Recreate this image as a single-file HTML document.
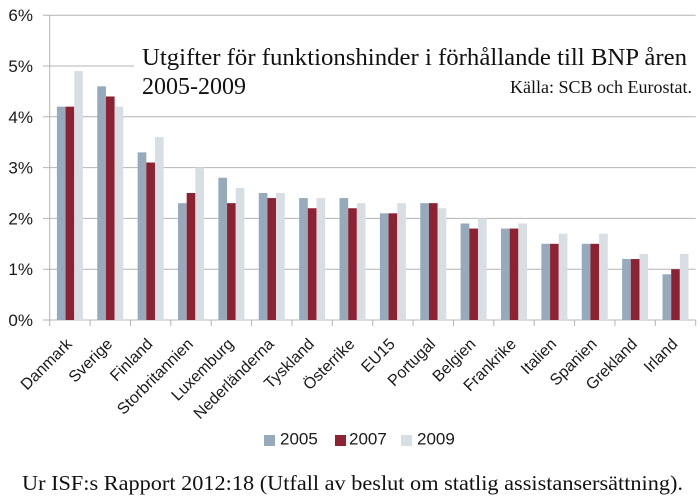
<!DOCTYPE html>
<html>
<head>
<meta charset="utf-8">
<style>
html,body{margin:0;padding:0;background:#fff;}
svg{display:block;}
.ax{font-family:"Liberation Sans",sans-serif;font-size:17px;fill:#1a1a1a;}
.cat{font-family:"Liberation Sans",sans-serif;font-size:16px;fill:#1a1a1a;}
.ser{font-family:"Liberation Serif",serif;fill:#111;}
</style>
</head>
<body>
<svg width="700" height="500" viewBox="0 0 700 500" xmlns="http://www.w3.org/2000/svg">
<rect x="0" y="0" width="700" height="500" fill="#fff"/>
<!-- gridlines -->
<g stroke="#b4b4b4" stroke-width="1">
<line x1="43" y1="15.2" x2="695.7" y2="15.2"/>
<line x1="43" y1="66" x2="695.7" y2="66"/>
<line x1="43" y1="116.8" x2="695.7" y2="116.8"/>
<line x1="43" y1="167.6" x2="695.7" y2="167.6"/>
<line x1="43" y1="218.4" x2="695.7" y2="218.4"/>
<line x1="43" y1="269.2" x2="695.7" y2="269.2"/>
<line x1="43" y1="320" x2="695.7" y2="320"/>
<line x1="49.7" y1="15.2" x2="49.7" y2="320"/>
<line x1="49.7" y1="320" x2="49.7" y2="326"/>
<line x1="90.1" y1="320" x2="90.1" y2="326"/>
<line x1="130.5" y1="320" x2="130.5" y2="326"/>
<line x1="170.8" y1="320" x2="170.8" y2="326"/>
<line x1="211.2" y1="320" x2="211.2" y2="326"/>
<line x1="251.6" y1="320" x2="251.6" y2="326"/>
<line x1="291.95" y1="320" x2="291.95" y2="326"/>
<line x1="332.3" y1="320" x2="332.3" y2="326"/>
<line x1="372.7" y1="320" x2="372.7" y2="326"/>
<line x1="413.1" y1="320" x2="413.1" y2="326"/>
<line x1="453.45" y1="320" x2="453.45" y2="326"/>
<line x1="493.8" y1="320" x2="493.8" y2="326"/>
<line x1="534.2" y1="320" x2="534.2" y2="326"/>
<line x1="574.6" y1="320" x2="574.6" y2="326"/>
<line x1="614.95" y1="320" x2="614.95" y2="326"/>
<line x1="655.3" y1="320" x2="655.3" y2="326"/>
<line x1="695.7" y1="320" x2="695.7" y2="326"/>
</g>
<!-- title box -->
<rect x="134" y="32" width="566" height="78" fill="#fff"/>
<text class="ser" x="142" y="65" font-size="24" textLength="545" lengthAdjust="spacingAndGlyphs">Utgifter för funktionshinder i förhållande till BNP åren</text>
<text class="ser" x="142" y="94" font-size="24">2005-2009</text>
<text class="ser" x="510" y="93" font-size="18" textLength="182" lengthAdjust="spacingAndGlyphs">Källa: SCB och Eurostat.</text>

<!-- y labels -->
<text class="ax" x="33" y="21.2" text-anchor="end">6%</text>
<text class="ax" x="33" y="72" text-anchor="end">5%</text>
<text class="ax" x="33" y="122.8" text-anchor="end">4%</text>
<text class="ax" x="33" y="173.6" text-anchor="end">3%</text>
<text class="ax" x="33" y="224.4" text-anchor="end">2%</text>
<text class="ax" x="33" y="275.2" text-anchor="end">1%</text>
<text class="ax" x="33" y="326" text-anchor="end">0%</text>

<!-- bars -->
<g id="bars">
<g transform="translate(69.89,0)">
<rect x="-13" y="106.64" width="8.67" height="213.36" fill="#95abbb"/>
<rect x="-4.33" y="106.64" width="8.67" height="213.36" fill="#8c2232"/>
<rect x="4.33" y="71.08" width="8.67" height="248.92" fill="#d7dfe4"/>
</g>
<g transform="translate(110.26,0)">
<rect x="-13" y="86.32" width="8.67" height="233.68" fill="#95abbb"/>
<rect x="-4.33" y="96.48" width="8.67" height="223.52" fill="#8c2232"/>
<rect x="4.33" y="106.64" width="8.67" height="213.36" fill="#d7dfe4"/>
</g>
<g transform="translate(150.64,0)">
<rect x="-13" y="152.36" width="8.67" height="167.64" fill="#95abbb"/>
<rect x="-4.33" y="162.52" width="8.67" height="157.48" fill="#8c2232"/>
<rect x="4.33" y="137.12" width="8.67" height="182.88" fill="#d7dfe4"/>
</g>
<g transform="translate(191.01,0)">
<rect x="-13" y="203.16" width="8.67" height="116.84" fill="#95abbb"/>
<rect x="-4.33" y="193" width="8.67" height="127" fill="#8c2232"/>
<rect x="4.33" y="167.6" width="8.67" height="152.4" fill="#d7dfe4"/>
</g>
<g transform="translate(231.39,0)">
<rect x="-13" y="177.76" width="8.67" height="142.24" fill="#95abbb"/>
<rect x="-4.33" y="203.16" width="8.67" height="116.84" fill="#8c2232"/>
<rect x="4.33" y="187.92" width="8.67" height="132.08" fill="#d7dfe4"/>
</g>
<g transform="translate(271.76,0)">
<rect x="-13" y="193" width="8.67" height="127" fill="#95abbb"/>
<rect x="-4.33" y="198.08" width="8.67" height="121.92" fill="#8c2232"/>
<rect x="4.33" y="193" width="8.67" height="127" fill="#d7dfe4"/>
</g>
<g transform="translate(312.14,0)">
<rect x="-13" y="198.08" width="8.67" height="121.92" fill="#95abbb"/>
<rect x="-4.33" y="208.24" width="8.67" height="111.76" fill="#8c2232"/>
<rect x="4.33" y="198.08" width="8.67" height="121.92" fill="#d7dfe4"/>
</g>
<g transform="translate(352.51,0)">
<rect x="-13" y="198.08" width="8.67" height="121.92" fill="#95abbb"/>
<rect x="-4.33" y="208.24" width="8.67" height="111.76" fill="#8c2232"/>
<rect x="4.33" y="203.16" width="8.67" height="116.84" fill="#d7dfe4"/>
</g>
<g transform="translate(392.89,0)">
<rect x="-13" y="213.32" width="8.67" height="106.68" fill="#95abbb"/>
<rect x="-4.33" y="213.32" width="8.67" height="106.68" fill="#8c2232"/>
<rect x="4.33" y="203.16" width="8.67" height="116.84" fill="#d7dfe4"/>
</g>
<g transform="translate(433.26,0)">
<rect x="-13" y="203.16" width="8.67" height="116.84" fill="#95abbb"/>
<rect x="-4.33" y="203.16" width="8.67" height="116.84" fill="#8c2232"/>
<rect x="4.33" y="208.24" width="8.67" height="111.76" fill="#d7dfe4"/>
</g>
<g transform="translate(473.64,0)">
<rect x="-13" y="223.48" width="8.67" height="96.52" fill="#95abbb"/>
<rect x="-4.33" y="228.56" width="8.67" height="91.44" fill="#8c2232"/>
<rect x="4.33" y="218.4" width="8.67" height="101.6" fill="#d7dfe4"/>
</g>
<g transform="translate(514.01,0)">
<rect x="-13" y="228.56" width="8.67" height="91.44" fill="#95abbb"/>
<rect x="-4.33" y="228.56" width="8.67" height="91.44" fill="#8c2232"/>
<rect x="4.33" y="223.48" width="8.67" height="96.52" fill="#d7dfe4"/>
</g>
<g transform="translate(554.39,0)">
<rect x="-13" y="243.8" width="8.67" height="76.2" fill="#95abbb"/>
<rect x="-4.33" y="243.8" width="8.67" height="76.2" fill="#8c2232"/>
<rect x="4.33" y="233.64" width="8.67" height="86.36" fill="#d7dfe4"/>
</g>
<g transform="translate(594.76,0)">
<rect x="-13" y="243.8" width="8.67" height="76.2" fill="#95abbb"/>
<rect x="-4.33" y="243.8" width="8.67" height="76.2" fill="#8c2232"/>
<rect x="4.33" y="233.64" width="8.67" height="86.36" fill="#d7dfe4"/>
</g>
<g transform="translate(635.14,0)">
<rect x="-13" y="259.04" width="8.67" height="60.96" fill="#95abbb"/>
<rect x="-4.33" y="259.04" width="8.67" height="60.96" fill="#8c2232"/>
<rect x="4.33" y="253.96" width="8.67" height="66.04" fill="#d7dfe4"/>
</g>
<g transform="translate(675.51,0)">
<rect x="-13" y="274.28" width="8.67" height="45.72" fill="#95abbb"/>
<rect x="-4.33" y="269.2" width="8.67" height="50.8" fill="#8c2232"/>
<rect x="4.33" y="253.96" width="8.67" height="66.04" fill="#d7dfe4"/>
</g>
</g>

<!-- category labels -->
<g class="cat" text-anchor="end">
<text transform="translate(72.9,345) rotate(-45)">Danmark</text>
<text transform="translate(113.3,345) rotate(-45)">Sverige</text>
<text transform="translate(153.6,345) rotate(-45)">Finland</text>
<text transform="translate(194,345) rotate(-45)">Storbritannien</text>
<text transform="translate(234.4,345) rotate(-45)">Luxemburg</text>
<text transform="translate(274.8,345) rotate(-45)">Nederländerna</text>
<text transform="translate(315.1,345) rotate(-45)">Tyskland</text>
<text transform="translate(355.5,345) rotate(-45)">Österrike</text>
<text transform="translate(395.9,345) rotate(-45)">EU15</text>
<text transform="translate(436.3,345) rotate(-45)">Portugal</text>
<text transform="translate(476.6,345) rotate(-45)">Belgien</text>
<text transform="translate(517,345) rotate(-45)">Frankrike</text>
<text transform="translate(557.4,345) rotate(-45)">Italien</text>
<text transform="translate(597.8,345) rotate(-45)">Spanien</text>
<text transform="translate(638.1,345) rotate(-45)">Grekland</text>
<text transform="translate(678.5,345) rotate(-45)">Irland</text>
</g>

<!-- legend -->
<rect x="264" y="435" width="11" height="11" fill="#95abbb"/>
<text class="ax" x="280" y="444.5">2005</text>
<rect x="335" y="435" width="11" height="11" fill="#8c2232"/>
<text class="ax" x="349" y="444.5">2007</text>
<rect x="401" y="435" width="11" height="11" fill="#d7dfe4"/>
<text class="ax" x="417" y="444.5">2009</text>

<!-- footer -->
<text class="ser" x="22" y="490" font-size="21" textLength="661" lengthAdjust="spacingAndGlyphs">Ur ISF:s Rapport 2012:18 (Utfall av beslut om statlig assistansersättning).</text>
</svg>
</body>
</html>
